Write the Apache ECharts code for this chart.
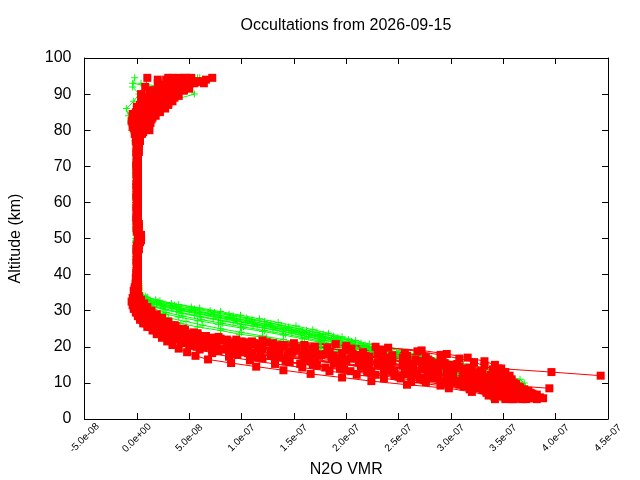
<!DOCTYPE html>
<html>
<head>
<meta charset="utf-8">
<script src="https://cdn.jsdelivr.net/npm/echarts@6/dist/echarts.min.js"></script>
<style>
  html, body { margin: 0; padding: 0; background: #ffffff; }
  #chart { width: 640px; height: 480px; }
</style>
</head>
<body>
<div id="chart"></div>
<script>
// ---------------- data (VMR values in ppbv, altitudes in km) ----------------
const PPB = 1e-9;
const TITLE = 'Occultations from 2026-09-15';
const X_NAME = 'N2O VMR';
const Y_NAME = 'Altitude (km)';
const X_TICKS = [-5e-8, 0, 5e-8, 1e-7, 1.5e-7, 2e-7, 2.5e-7, 3e-7, 3.5e-7, 4e-7, 4.5e-7];
const Y_TICKS = [0, 10, 20, 30, 40, 50, 60, 70, 80, 90, 100];

// altitude grids of the occultations
const ALT_I = [6,7,8,9,10,11,12,13,14,15,16,17,18,19,20,21,22,23,24,25,26,27,28,29,30,31,32,33,34,
  36,38,41,44,47,50,53,56,59,62,65,68,71,74,77,80,82,84,86,88,90,92,94.5];
const ALT_H = [5.5,6.5,7.5,8.5,9.5,10.5,11.5,12.5,13.5,14.5,15.5,16.5,17.5,18.5,19.5,20.5,21.5,22.5,23.5,24.5,25.5,26.5,27.5,28.5,29.5,30.5,31.5,32.5,33.5,
  35.5,37.5,40.5,43.5,46.5,49.5,52.5,55.5,58.5,61.5,64.5,67.5,70.5,73.5,76.5,79,81,83,85,87,89,91,93];
const ALT_Q = [6.25,7.25,8.25,9.25,10.25,11.25,12.25,13.25,14.25,15.25,16.25,17.25,18.25,19.25,20.25,21.25,22.25,23.25,24.25,25.25,26.25,27.25,28.25,29.25,30.25,31.25,32.25,33.25,34.25,
  36.5,39,42,45,48,51,54,57,60,63,66,69,72,75,78,80.5,82.5,84.5,86.5,88.5,90.5,92.5,94];
const ALT_T = [5.75,6.75,7.75,8.75,9.75,10.75,11.75,12.75,13.75,14.75,15.75,16.75,17.75,18.75,19.75,20.75,21.75,22.75,23.75,24.75,25.75,26.75,27.75,28.75,29.75,30.75,31.75,32.75,33.75,
  35,37,40,43,46,49,52,55,58,61,64,67,70,73,76,79.5,81.5,83.5,85.5,87.5,89.5,91.5,93.5];

// green retrievals (ppbv)
const GREEN_1 = [365,370,372,371,370,366,352,342,332,312,292,275,258,240,225,214,202,188,172,155,138,122,105,88,70,52,33,18,8,
  2,2,1,0,0,-1,0,-1,0,-1,0,-1,0,-1,0,1,4,8,14,22,34,45,60];
const GREEN_2 = [358,362,365,363,360,352,343,333,320,305,288,272,255,238,222,208,195,180,165,148,130,112,95,78,60,42,26,13,5,
  2,2,1,0,-1,0,-1,0,-1,0,-1,0,-1,0,-1,0,3,7,12,20,30,40,4];
const GREEN_3 = [350,356,358,356,352,345,336,325,312,298,282,265,248,232,216,200,186,170,152,134,115,96,78,60,42,26,14,6,2,
  2,1,0,-1,0,0,-1,0,-1,0,-1,0,-1,0,-1,-3,-2,0,4,10,18,26,36];
const GREEN_4 = [340,346,350,350,346,340,332,322,310,296,280,262,244,226,208,192,176,160,142,122,102,82,62,44,28,16,8,3,1,
  1,1,0,-1,0,-1,0,-1,0,-1,0,0,-1,0,-1,-2,-1,2,6,12,20,31,50];
const GREEN_5 = [342,346,346,342,336,328,318,306,292,276,258,238,216,196,176,158,140,124,98,80,58,42,28,16,8,4,2,1,0,
  1,1,0,-1,-1,0,-1,0,0,-1,0,-1,0,-1,-1,0,2,5,10,18,28,38,50];
const GREEN_6 = [338,342,344,340,334,326,316,304,290,274,256,236,214,194,175,157,140,120,100,80,63,47,30,15,7,3,1,0,0,
  2,0,-1,0,-1,0,-1,-1,0,-1,-1,0,-1,0,-2,-5,-6,-8,-10,-3,2,-4,-2];
const GREEN_7 = [362,368,370,368,364,358,350,340,328,314,298,282,266,248,232,218,205,192,178,162,145,128,110,92,74,55,36,20,9,
  2,1,0,0,-1,0,-1,0,0,-1,0,-1,0,-1,0,1,3,6,10,16,25,35,-4];
const GREEN_8 = [355,360,362,360,356,350,342,332,320,306,290,272,254,236,220,206,192,178,162,145,128,110,92,74,56,38,22,10,4,
  2,1,0,0,-1,0,0,-1,0,0,-1,0,0,-1,0,2,5,12,20,30,55,50,58];
const GREEN_9 = [360,364,364,361,356,348,338,326,313,298,282,265,248,232,216,202,188,174,158,142,124,106,88,70,52,34,19,9,3,
  2,1,0,-1,0,-1,0,0,-1,0,-1,0,-1,0,-1,0,2,6,11,18,26,36,46];
const GREEN_10 = [352,357,360,358,354,347,338,327,314,300,284,267,250,233,217,202,188,173,157,140,122,104,86,68,50,33,19,9,3,
  2,2,1,0,-1,0,-1,0,-1,0,0,-1,0,-1,0,-1,1,4,9,15,24,33,42];
const GREEN_11 = [346,350,352,350,345,338,329,318,305,290,274,257,240,223,206,190,174,157,139,120,100,80,61,43,27,15,7,3,1,
  2,1,0,0,-1,0,-1,0,-1,-1,0,-1,0,-1,-1,-2,0,3,7,13,21,30,40];
const GREEN_12 = [366,370,372,370,367,361,354,345,334,321,305,288,271,254,237,222,209,196,183,168,152,135,117,99,80,60,40,22,10,
  3,2,1,0,0,-1,0,-1,0,-1,0,-1,0,-1,0,1,4,9,15,23,33,44,54];
const GREEN_13 = [338,343,345,343,338,331,322,311,298,283,266,248,229,210,192,175,158,140,120,99,78,58,40,25,13,6,2,1,0,
  1,0,0,-1,-1,0,-1,0,-1,0,-1,0,-1,0,-1,-4,-6,-3,1,6,12,20,31];
const GREEN_14 = [348,352,354,352,347,340,331,320,307,292,276,259,241,224,208,193,179,164,148,130,111,92,73,55,38,23,12,5,2,
  2,1,0,-1,0,-1,0,-1,0,0,-1,0,-1,0,-1,0,2,5,10,16,24,32,44];

// red retrievals (ppbv)
const RED_1 = [372,370,366,362,360,358,356,352,348,342,332,316,296,272,228,150,95,66,54,44,36,30,24,19,14,10,7,4,2,
  1,0,1,0,1,3,1,0,1,0,1,0,1,0,1,-2,-4,-3,2,6,4,8,10];
const RED_2 = [382,378,372,364,356,348,340,330,320,308,294,278,258,235,205,160,110,75,52,40,31,24,18,13,9,6,3,2,0,
  -1,0,1,0,1,2,1,0,1,0,1,0,1,0,1,2,0,-3,-1,3,8,12,20];
const RED_3 = [362,355,346,336,326,314,302,288,272,254,234,210,182,150,118,88,64,46,33,24,17,12,8,5,3,1,0,-1,0,
  -1,1,0,1,2,4,2,1,0,1,0,1,0,1,2,4,6,10,15,20,22,26,30];
const RED_4 = [352,344,334,322,308,292,275,256,236,214,190,164,136,110,86,66,50,38,28,20,13,8,5,2,0,-1,-2,-2,-1,
  -2,0,1,1,0,3,1,0,1,1,0,1,0,1,2,4,5,8,12,18,24,32,40];
const RED_5 = [342,336,320,298,258,224,196,166,140,114,90,68,56,48,40,34,29,24,19,15,10,6,3,1,-1,-3,-4,-5,-4,
  -3,-1,0,1,1,2,0,1,0,1,1,0,1,0,1,3,8,12,18,26,33,44,64];
const RED_6 = [385,378,366,352,336,320,302,284,264,242,218,192,165,136,106,76,55,40,29,21,15,10,6,4,2,1,0,0,1,
  0,1,1,0,1,2,1,0,1,1,0,1,1,2,3,6,10,14,20,28,34,42,48];
const RED_7 = [368,365,361,354,347,340,332,322,312,300,285,266,244,216,182,140,100,70,50,37,28,21,15,11,8,5,3,2,1,
  0,1,0,1,1,4,1,1,0,1,0,1,1,0,2,5,9,14,22,30,36,45,55];
const RED_8 = [null,null,null,null,null,null,443,396,345,305,272,240,206,170,132,96,68,48,35,26,19,13,9,6,4,2,1,0,0,
  1,0,1,1,0,3,1,1,0,1,1,0,1,1,2,12,13,18,27,34,37,46,72];
const RED_9 = [null,null,null,394,349,330,315,300,282,262,240,215,188,160,130,100,75,55,40,29,21,15,10,6,3,1,0,0,-1,
  -1,0,1,0,1,2,1,0,1,0,1,0,0,1,0,-2,-4,-2,0,4,10,16,30];
const RED_10 = [376,374,370,365,358,350,340,328,314,298,280,258,232,200,160,112,74,52,38,29,22,16,12,8,5,3,2,1,0,
  1,1,0,1,1,2,0,1,1,0,1,1,0,1,0,2,3,6,10,14,18,24,34];
const RED_11 = [358,350,340,328,314,298,280,260,238,214,188,160,128,98,72,54,42,32,25,19,14,10,7,4,2,1,0,-1,-2,
  -2,-1,0,0,1,1,0,1,0,0,1,1,0,0,1,0,2,4,8,14,20,30,48];
const RED_12 = [366,360,352,342,330,316,298,278,256,230,200,168,134,102,76,58,45,35,27,20,14,9,6,3,1,0,-1,-2,-1,
  -2,0,0,1,0,1,0,0,1,0,0,1,0,0,-1,0,-2,0,5,12,28,36,52];
const RED_13 = [350,338,318,290,262,236,210,184,158,132,108,88,72,60,50,42,35,28,22,16,11,7,4,2,0,-1,-2,-3,-2,
  -2,-1,0,1,0,2,1,0,1,0,1,0,1,0,1,-3,-5,-4,0,4,12,22,42];
const RED_14 = [376,374,370,366,362,357,352,346,340,332,322,308,290,268,240,190,120,78,58,46,37,30,24,18,13,9,6,3,2,
  1,1,0,1,1,3,1,1,0,1,0,1,0,1,1,4,7,11,17,24,30,38,50];
const RED_15 = [372,366,358,348,338,326,312,298,282,264,244,222,196,168,138,104,74,52,38,28,20,14,10,6,4,2,1,0,0,
  0,1,1,0,1,3,1,0,1,1,0,1,1,0,2,5,8,12,18,26,32,40,28];
const RED_16 = [362,352,338,320,298,274,250,224,198,172,146,120,96,78,64,52,42,33,25,18,12,8,4,2,0,-1,-2,-3,-2,
  -2,-1,0,0,1,1,0,1,0,1,0,1,0,1,0,1,2,5,9,15,24,34,58];
const RED_17 = [380,376,370,362,354,346,338,328,318,306,292,276,256,234,200,124,80,58,44,34,26,20,15,11,7,4,2,1,0,
  1,0,1,1,0,4,2,1,0,1,1,0,1,1,3,8,12,16,24,32,38,48,66];
const RED_18 = [370,362,352,340,326,312,296,278,258,236,212,186,158,128,98,72,54,40,30,22,16,11,7,4,2,0,-1,-1,0,
  0,1,0,1,1,2,1,0,1,0,1,1,0,0,1,2,4,7,12,19,28,36,45];
const RED_19 = [356,346,334,320,304,286,266,244,220,194,166,136,106,82,64,50,39,30,23,17,12,8,5,3,1,0,-1,-2,-1,
  -1,0,1,0,1,2,0,1,1,0,1,0,1,0,0,-1,-3,-1,3,8,14,26,38];
const RED_20 = [388,382,374,364,352,340,326,312,296,278,258,236,212,184,152,116,84,60,44,33,25,18,13,9,6,4,2,1,0,
  1,1,0,1,0,2,1,1,0,1,1,1,0,1,2,6,10,15,22,30,40,50,62];
const RED_21 = [355,344,330,312,292,270,246,220,194,168,142,116,92,72,57,46,37,29,22,16,11,7,4,2,0,-1,-2,-2,-1,
  0,1,0,1,0,2,1,0,1,0,1,0,1,0,1,1,3,6,11,17,25,33,40];
const RED_22 = [372,366,357,345,331,316,299,281,262,242,221,198,174,148,120,90,64,46,34,25,18,12,8,5,3,1,0,-1,0,
  1,0,1,1,0,3,1,0,1,0,1,1,0,1,2,3,5,9,14,20,27,36,50];
const RED_23 = [346,334,318,298,276,252,228,204,180,156,132,110,90,74,61,50,40,31,24,18,13,9,6,3,1,0,-1,-1,0,
  -1,0,1,0,1,1,0,1,0,1,0,1,0,1,0,0,2,4,8,13,19,28,20];
const RED_24 = [380,374,366,356,344,330,314,296,276,254,230,204,176,146,116,88,66,49,36,26,19,13,9,6,3,2,1,0,0,
  0,1,1,0,1,3,1,0,1,1,0,1,0,1,1,3,6,10,15,22,30,41,57];
const RED_25 = [368,364,358,350,342,334,325,315,304,290,274,254,230,200,170,130,86,60,45,35,27,21,16,12,8,5,3,1,0,
  1,1,0,1,0,2,1,1,0,1,0,1,1,0,1,1,4,8,13,19,26,34,45];
const RED_26 = [360,354,346,335,322,306,288,268,246,222,196,170,144,118,94,74,58,45,35,27,20,14,9,6,3,1,0,-1,-1,
  -1,0,0,1,1,2,1,0,1,0,0,1,0,1,0,-1,1,3,6,10,16,24,35];

const GREEN_PROFILES = [
  [ALT_I, GREEN_1], [ALT_H, GREEN_2], [ALT_I, GREEN_3], [ALT_H, GREEN_4],
  [ALT_H, GREEN_5], [ALT_I, GREEN_6], [ALT_H, GREEN_7], [ALT_I, GREEN_8],
  [ALT_Q, GREEN_9], [ALT_T, GREEN_10], [ALT_Q, GREEN_11], [ALT_T, GREEN_12],
  [ALT_Q, GREEN_13], [ALT_T, GREEN_14]
];
const RED_PROFILES = [
  [ALT_I, RED_1], [ALT_H, RED_2], [ALT_I, RED_3], [ALT_H, RED_4],
  [ALT_H, RED_5], [ALT_I, RED_6], [ALT_H, RED_7], [ALT_I, RED_8],
  [ALT_H, RED_9], [ALT_I, RED_10], [ALT_H, RED_11], [ALT_I, RED_12],
  [ALT_Q, RED_13], [ALT_T, RED_14], [ALT_Q, RED_15], [ALT_T, RED_16],
  [ALT_Q, RED_17], [ALT_T, RED_18], [ALT_Q, RED_19], [ALT_T, RED_20],
  [ALT_I, RED_21], [ALT_H, RED_22], [ALT_Q, RED_23], [ALT_T, RED_24],
  [ALT_I, RED_25], [ALT_H, RED_26]
];

// ---------------- chart ----------------
const FONT = "'Liberation Sans', Arial, sans-serif";
const GREEN = '#00ff00';
const RED = '#ff0000';
const PLUS = 'path://M3,0h1v3h3v1h-3v3h-1v-3h-3v-1h3z';

function toPoints(alts, vals) {
  const out = [];
  const n = Math.min(alts.length, vals.length);
  for (let i = 0; i < n; i++) {
    if (vals[i] === null) continue;
    out.push([vals[i] * PPB, alts[i]]);
  }
  return out;
}

function sci(v) {
  if (Math.abs(v) < 1e-20) v = 0;
  const parts = v.toExponential(1).split('e');
  const sign = parts[1][0];
  const digits = parts[1].slice(1).padStart(2, '0');
  return parts[0] + 'e' + sign + digits;
}

const series = [];
GREEN_PROFILES.forEach(function (p) {
  series.push({
    type: 'line', data: toPoints(p[0], p[1]),
    symbol: PLUS, symbolSize: 7, showSymbol: true,
    lineStyle: { color: GREEN, width: 1 },
    itemStyle: { color: GREEN },
    silent: true, animation: false
  });
});
RED_PROFILES.forEach(function (p) {
  series.push({
    type: 'line', data: toPoints(p[0], p[1]),
    symbol: 'rect', symbolSize: 8, showSymbol: true,
    lineStyle: { color: RED, width: 1 },
    itemStyle: { color: RED },
    silent: true, animation: false
  });
});

const axisLine = { show: true, onZero: false, lineStyle: { color: '#000', width: 1 } };
const tickIn = { show: true, inside: true, length: 6, lineStyle: { color: '#000', width: 1 } };
const xMin = X_TICKS[0], xMax = X_TICKS[X_TICKS.length - 1], xStep = X_TICKS[1] - X_TICKS[0];
const yMin = Y_TICKS[0], yMax = Y_TICKS[Y_TICKS.length - 1], yStep = Y_TICKS[1] - Y_TICKS[0];

const chart = echarts.init(document.getElementById('chart'), null, { renderer: 'canvas' });
chart.setOption({
  backgroundColor: '#ffffff',
  animation: false,
  textStyle: { fontFamily: FONT },
  title: {
    text: TITLE, left: 346, top: 18, padding: 0, textAlign: 'center',
    textStyle: { fontFamily: FONT, fontSize: 16, fontWeight: 'normal', color: '#000' }
  },
  grid: { left: 84.5, right: 32, top: 58, bottom: 61, containLabel: false, outerBoundsMode: 'none' },
  xAxis: [{
    type: 'value', position: 'bottom', min: xMin, max: xMax, interval: xStep,
    axisLine: axisLine, axisTick: tickIn, splitLine: { show: false },
    axisLabel: {
      rotate: 45, margin: 19, align: 'center', verticalAlign: 'middle',
      fontSize: 10, color: '#000', fontFamily: FONT, formatter: sci
    },
    name: X_NAME, nameLocation: 'middle', nameGap: 38,
    nameTextStyle: { fontSize: 16, color: '#000', fontFamily: FONT }
  }, {
    type: 'value', position: 'top', min: xMin, max: xMax, interval: xStep,
    axisLine: axisLine, axisTick: tickIn, axisLabel: { show: false }, splitLine: { show: false }
  }],
  yAxis: [{
    type: 'value', position: 'left', min: yMin, max: yMax, interval: yStep,
    axisLine: axisLine, axisTick: tickIn, splitLine: { show: false },
    axisLabel: { fontSize: 16, color: '#000', margin: 13, fontFamily: FONT },
    name: Y_NAME, nameLocation: 'middle', nameGap: 61,
    nameTextStyle: { fontSize: 16, color: '#000', fontFamily: FONT }
  }, {
    type: 'value', position: 'right', min: yMin, max: yMax, interval: yStep,
    axisLine: axisLine, axisTick: tickIn, axisLabel: { show: false }, splitLine: { show: false }
  }],
  series: series
});
</script>
</body>
</html>
